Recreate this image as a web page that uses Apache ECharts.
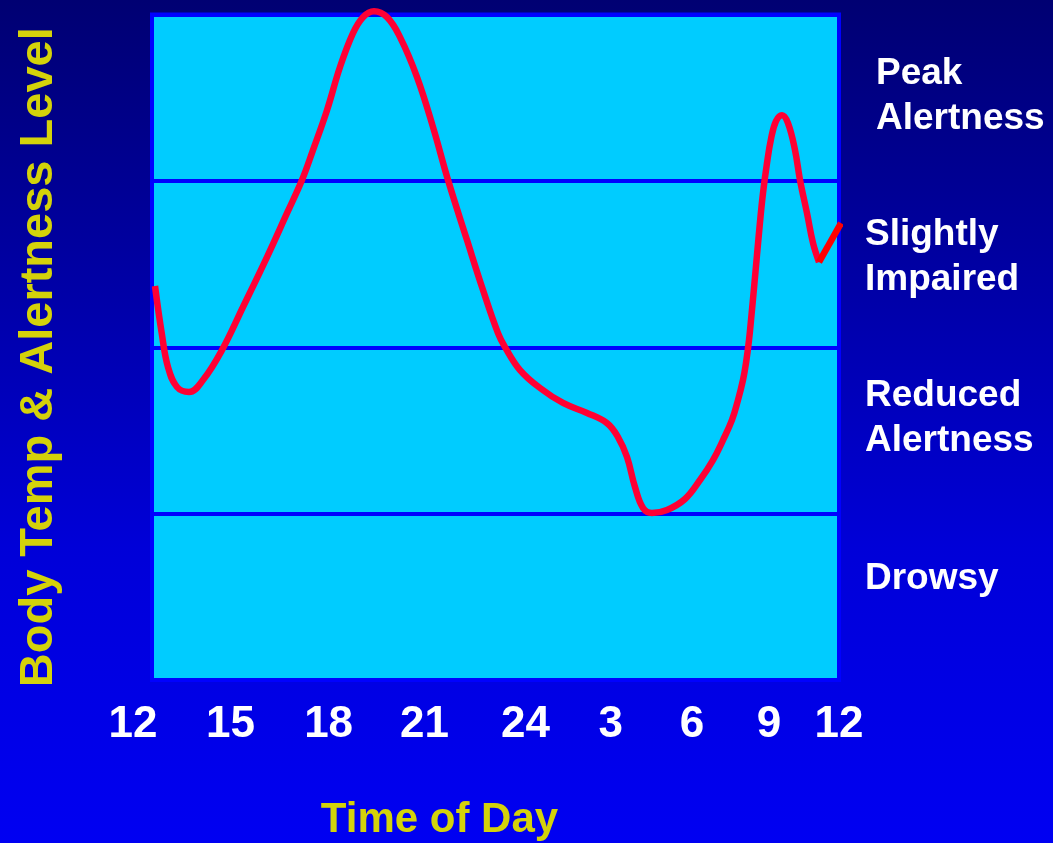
<!DOCTYPE html>
<html>
<head>
<meta charset="utf-8">
<script src="https://cdn.jsdelivr.net/npm/echarts@6/dist/echarts.min.js"></script>
<style>
html, body { margin: 0; padding: 0; background: #000080; }
#chart { width: 1053px; height: 843px; }
</style>
</head>
<body>
<div id="chart"></div>
<script>
// x: hours after noon (axis 0..24), y: alertness level (0..4)
const curveHours = [0.105, 0.339, 0.559, 0.873, 1.293, 1.782, 2.445, 3.179, 4.017, 4.716, 5.240, 5.624, 6.114, 6.568, 7.022, 7.371, 7.755, 8.210, 8.664, 9.258, 9.817, 10.341, 11.004, 11.563, 12.087, 12.332, 12.856, 13.555, 14.358, 15.197, 15.895, 16.279, 16.594, 16.873, 17.153, 17.467, 17.991, 18.620, 19.144, 19.598, 19.948, 20.262, 20.472, 20.646, 20.751, 20.856, 20.943, 21.031, 21.135, 21.240, 21.345, 21.485, 21.624, 21.799, 22.009, 22.218, 22.463, 22.638, 22.882, 23.092, 23.301];
const curveLevels = [2.368, 2.085, 1.881, 1.761, 1.731, 1.803, 1.983, 2.242, 2.542, 2.806, 3.005, 3.185, 3.425, 3.684, 3.888, 3.984, 4.020, 3.984, 3.864, 3.624, 3.323, 3.005, 2.644, 2.344, 2.085, 2.001, 1.863, 1.755, 1.665, 1.605, 1.544, 1.460, 1.340, 1.160, 1.034, 1.004, 1.022, 1.088, 1.202, 1.322, 1.442, 1.563, 1.683, 1.803, 1.905, 2.043, 2.194, 2.356, 2.554, 2.752, 2.927, 3.107, 3.251, 3.359, 3.395, 3.347, 3.185, 3.005, 2.806, 2.626, 2.512];
const tailHours = [23.301, 24.070];
const tailLevels = [2.512, 2.746];

const tickLabels = ['12', '15', '18', '21', '24', '3', '6', '9', '12'];
const tickHours = [0, 2.74, 6.17, 9.52, 13.05, 16.03, 18.86, 21.55, 24];

const levelNames = ['Drowsy', 'Reduced\nAlertness', 'Slightly\nImpaired', 'Peak\nAlertness'];
const levelValues = [0.61, 1.57, 2.54, 3.51];

const yTitle = 'Body Temp & Alertness Level';
const xTitle = 'Time of Day';

const FONT = "'Liberation Sans', Arial, sans-serif";
const YELLOW = '#D4D20A';

const curveData = curveHours.map((h, i) => [h, curveLevels[i]]);
const tailData = tailHours.map((h, i) => [h, tailLevels[i]]);

const chart = echarts.init(document.getElementById('chart'), null, { renderer: 'canvas' });
chart.setOption({
  animation: false,
  backgroundColor: new echarts.graphic.LinearGradient(0, 0, 0, 1, [
    { offset: 0, color: '#000072' },
    { offset: 0.35, color: '#0000A8' },
    { offset: 0.65, color: '#0000D8' },
    { offset: 1, color: '#0000F2' }
  ]),
  grid: {
    left: 152, right: 214, top: 14.5, bottom: 163,
    show: true,
    backgroundColor: '#00CCFF',
    borderColor: '#0000FF',
    borderWidth: 4,
    outerBoundsMode: 'none',
    containLabel: false
  },
  xAxis: {
    type: 'value', min: 0, max: 24,
    axisLine: { show: false }, axisTick: { show: false }, splitLine: { show: false },
    axisLabel: {
      customValues: tickHours,
      margin: 23,
      color: '#FFFFFF', fontSize: 44, fontWeight: 'bold', fontFamily: FONT,
      formatter: function (v) {
        const i = tickHours.indexOf(v);
        const t = i >= 0 ? tickLabels[i] : '';
        return i === 0 ? '{first|' + t + '}' : t;
      },
      rich: {
        first: { width: 87, align: 'left', color: '#FFFFFF', fontSize: 44, fontWeight: 'bold', fontFamily: FONT }
      }
    },
    name: xTitle,
    nameLocation: 'middle',
    nameGap: 119,
    nameTextStyle: { color: YELLOW, fontSize: 42, fontWeight: 'bold', fontFamily: FONT, padding: [0, 112, 0, 0] }
  },
  yAxis: [
    {
      type: 'value', min: 0, max: 4, interval: 1, position: 'right',
      axisLine: { show: false }, axisTick: { show: false },
      splitLine: { show: true, lineStyle: { color: '#0000FF', width: 4 } },
      axisLabel: {
        customValues: levelValues,
        margin: 26, align: 'left',
        color: '#FFFFFF', fontSize: 37, fontWeight: 'bold', fontFamily: FONT, lineHeight: 45,
        formatter: function (v) {
          const i = levelValues.indexOf(v);
          const t = i >= 0 ? levelNames[i] : '';
          return i === levelNames.length - 1 ? '{peak|' + t.split('\n').join('}\n{peak|') + '}' : t;
        },
        rich: {
          peak: { padding: [0, 0, 0, 11], color: '#FFFFFF', fontSize: 37, fontWeight: 'bold', fontFamily: FONT, lineHeight: 45 }
        }
      }
    },
    {
      type: 'value', min: 0, max: 4, position: 'left',
      axisLine: { show: false }, axisTick: { show: false }, splitLine: { show: false },
      axisLabel: { show: false },
      name: yTitle,
      nameLocation: 'middle',
      nameRotate: 90,
      nameGap: 89,
      nameTextStyle: { color: YELLOW, fontSize: 47, fontWeight: 'bold', fontFamily: FONT, padding: [0, 20, 0, 0] }
    }
  ],
  series: [
    {
      name: 'alertness', type: 'line', data: curveData, smooth: 0.4,
      yAxisIndex: 0, showSymbol: false, symbol: 'none', clip: false,
      lineStyle: { color: '#FF0033', width: 6.5 }
    },
    {
      name: 'tail', type: 'line', data: tailData, smooth: false,
      yAxisIndex: 0, showSymbol: false, symbol: 'none', clip: false,
      lineStyle: { color: '#FF0000', width: 6.5 }
    }
  ]
});
</script>
</body>
</html>
